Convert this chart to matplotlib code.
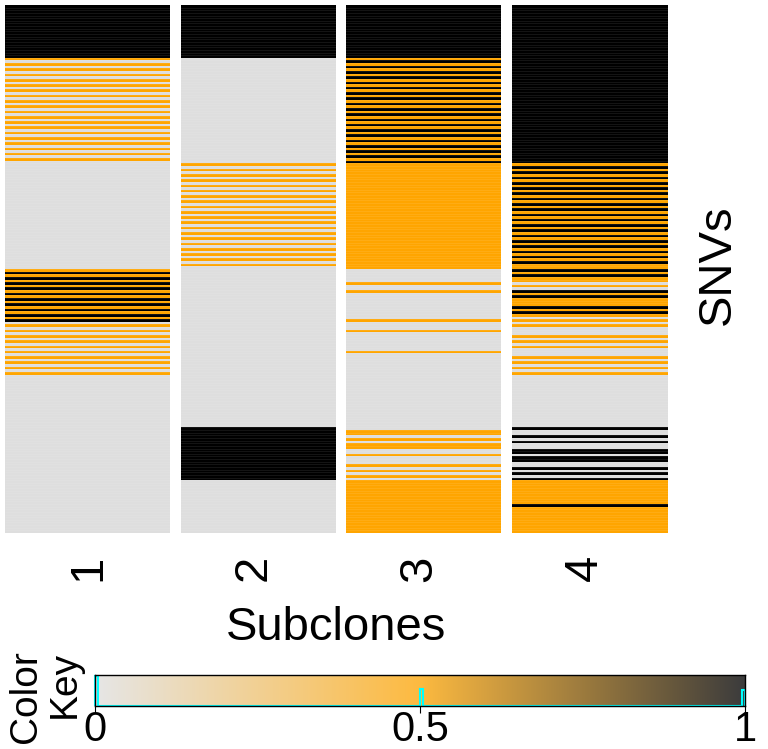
import numpy as np
import matplotlib
matplotlib.use("Agg")
import matplotlib.pyplot as plt
from matplotlib.colors import ListedColormap, LinearSegmentedColormap

plt.rcParams['font.family'] = ['Liberation Sans', 'DejaVu Sans']

# SNV x subclone matrix, one char per SNV row (K = 1, O = 0.5, G = 0), groups of 10 rows
subclones = ['1', '2', '3', '4']
col1 = ("KKKKKKKKKK KKKKKKKKKK OGOGOGOGOG OGOGOGOGOG OGOGOGOGOG OGOGOGOGOG "
        "GGGGGGGGGG GGGGGGGGGG GGGGGGGGGG GGGGGGGGGG OKOKOKOKOK OKOKOKOKOK "
        "GOGOGOGOGO GOGOGOGOGO GGGGGGGGGG GGGGGGGGGG GGGGGGGGGG GGGGGGGGGG "
        "GGGGGGGGGG GGGGGGGGGG")
col2 = ("KKKKKKKKKK KKKKKKKKKK GGGGGGGGGG GGGGGGGGGG GGGGGGGGGG GGGGGGGGGG "
        "OGOGOGOGOG OGOGOGOGOG OGOGOGOGOG OGOGOGOGOG GGGGGGGGGG GGGGGGGGGG "
        "GGGGGGGGGG GGGGGGGGGG GGGGGGGGGG GGGGGGGGGG KKKKKKKKKK KKKKKKKKKK "
        "GGGGGGGGGG GGGGGGGGGG")
col3 = ("KKKKKKKKKK KKKKKKKKKK OKOKOKOKOK OKOKOKOKOK OKOKOKOKOK OKOKOKOKOK "
        "OOOOOOOOOO OOOOOOOOOO OOOOOOOOOO OOOOOOOOOO GGGGGOGGOG GGGGGGGGGO "
        "GGGOGGGGGG GOGGGGGGGG GGGGGGGGGG GGGGGGGGGG GOOGOGOOGG OGGGOGOGOG "
        "OOOOOOOOOO OOOOOOOOOO")
col4 = ("KKKKKKKKKK KKKKKKKKKK KKKKKKKKKK KKKKKKKKKK KKKKKKKKKK KKKKKKKKKK "
        "OKOKOKOKOK OKOKOKOKOK OKOKOKOKOK OKOKOKOKOO KOKOOGOGKO KOOOKOKOGO "
        "GOGGGOGOGO GGGOGOGOGO GGGGGGGGGG GGGGGGGGGG KGGKGKGGKK GKKGGKGKGK "
        "OOOOOOOOOK OOOOOOOOOO")
code_values = {'G': 0.0, 'O': 0.5, 'K': 1.0}
key_ticks = [0, 0.5, 1]
key_labels = ['0', '0.5', '1']

columns = [col1, col2, col3, col4]
mat = np.array([[code_values[c] for c in s.replace(' ', '')] for s in columns]).T
n_rows = mat.shape[0]

heat_cmap = ListedColormap(['#DEDEDE', '#FFA500', '#000000'])
key_cmap = LinearSegmentedColormap.from_list('key', ['#E6E6E6', '#FDBA40', '#3C3C3C'])

W, H = 768, 749
fig = plt.figure(figsize=(W / 100, H / 100), dpi=100)

# heatmap
ax = fig.add_axes([5 / W, 1 - 533 / H, 663 / W, 528 / H])
ax.imshow(mat, cmap=heat_cmap, vmin=-0.25, vmax=1.25, aspect='auto',
          interpolation='nearest', extent=[0, len(subclones), n_rows, 0])
ax.hlines(np.arange(1, n_rows), 0, len(subclones), colors='white', alpha=0.15, lw=0.4)
sep = 10 / 165.75
for i in range(1, len(subclones)):
    ax.axvspan(i - 0.006, i + sep, color='white', lw=0)
ax.set_xlim(0, len(subclones))
ax.set_ylim(n_rows, 0)
ax.axis('off')

for i, lab in enumerate(subclones):
    ax.text(i + 0.5, -0.042, lab, rotation=90, ha='center', va='top', fontsize=34,
            transform=ax.get_xaxis_transform())

fig.text(336 / W, 1 - 628 / H, 'Subclones', ha='center', va='center', fontsize=34)
fig.text(718 / W, 1 - 265 / H, 'SNVs', ha='center', va='center', rotation=90, fontsize=34)

# color key with histogram
kax = fig.add_axes([95 / W, 1 - 706 / H, 650 / W, 31 / H])
grad = np.linspace(0, 1, 256).reshape(1, -1)
kax.imshow(grad, cmap=key_cmap, aspect='auto', extent=[0, 1, 0, 1.05])
counts, edges = np.histogram(mat.ravel(), bins=np.linspace(0, 1, 201))
kax.stairs(counts / counts.max(), edges, color='cyan', lw=1.5, clip_on=False)
kax.set_xlim(0, 1)
kax.set_ylim(0, 1.05)
kax.set_yticks([])
kax.set_xticks(key_ticks)
kax.set_xticklabels(key_labels, fontsize=30)
kax.tick_params(axis='x', length=5, pad=-2)
for s in kax.spines.values():
    s.set_linewidth(1)

fig.text(45 / W, 1 - 697 / H, 'Color\nKey', ha='center', va='center', rotation=90,
         fontsize=28, multialignment='right', linespacing=1.1)

fig.savefig('out.png', dpi=100)
